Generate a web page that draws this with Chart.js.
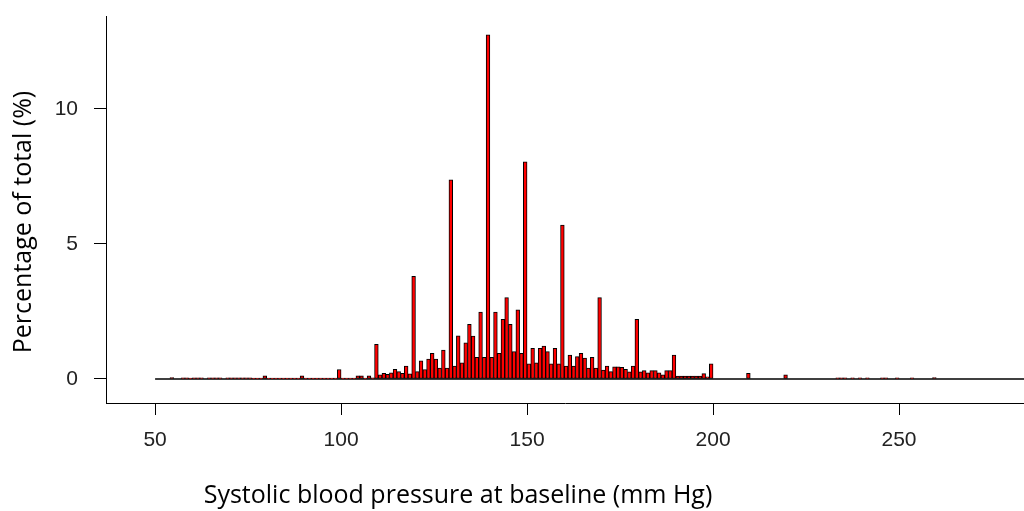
<!DOCTYPE html>
<html>
<head>
<meta charset="utf-8">
<title>Systolic blood pressure at baseline</title>
<script src="https://cdn.jsdelivr.net/npm/chart.js@4.4.0/dist/chart.umd.min.js"></script>
<style>
  html, body { margin: 0; padding: 0; background: #fff; }
  #wrap { width: 1024px; height: 511px; position: relative; }
</style>
</head>
<body>
<div id="wrap"><canvas id="sbpChart"></canvas></div>
<script>
// 1 mm Hg bins, bin i covers (binStart + i, binStart + i + 1]
const binStart = 50;
const xMin = 36.8;
const xMax = 283.6;

// percentage of total per bin (rows of 10 bins: 51-60, 61-70, ...)
const pctTotal = [
  0, 0, 0, 0, 0.05, 0, 0, 0.04, 0.04, 0.03,
  0.04, 0.04, 0.04, 0, 0.04, 0.04, 0.04, 0.04, 0, 0.04,
  0.04, 0.04, 0.04, 0.04, 0.04, 0.04, 0.03, 0.03, 0.03, 0.12,
  0.03, 0.03, 0.03, 0.03, 0.03, 0.03, 0.03, 0.03, 0.03, 0.12,
  0.03, 0.03, 0.03, 0.03, 0.03, 0.03, 0.03, 0.03, 0.03, 0.35,
  0.03, 0.03, 0.03, 0.03, 0.12, 0.12, 0.03, 0.12, 0.04, 1.28,
  0.15, 0.21, 0.17, 0.23, 0.36, 0.27, 0.21, 0.48, 0.19, 3.8,
  0.27, 0.67, 0.35, 0.74, 0.95, 0.74, 0.4, 1.07, 0.4, 7.37,
  0.48, 1.6, 0.6, 1.34, 2.02, 1.59, 0.8, 2.48, 0.8, 12.74,
  0.8, 2.48, 0.95, 2.21, 3.01, 2.02, 1.01, 2.56, 0.95, 8.04,
  0.56, 1.13, 0.6, 1.13, 1.22, 1.01, 0.56, 1.13, 0.56, 5.7,
  0.48, 0.88, 0.48, 0.83, 0.95, 0.77, 0.4, 0.8, 0.4, 3.01,
  0.33, 0.48, 0.27, 0.45, 0.45, 0.43, 0.36, 0.26, 0.48, 2.21,
  0.26, 0.31, 0.23, 0.31, 0.31, 0.23, 0.15, 0.31, 0.31, 0.88,
  0.11, 0.11, 0.11, 0.11, 0.11, 0.11, 0.11, 0.2, 0.08, 0.56,
  0, 0, 0, 0, 0, 0, 0, 0, 0, 0.21,
  0, 0, 0, 0, 0, 0, 0, 0, 0, 0.15,
  0, 0, 0, 0, 0, 0, 0, 0, 0, 0,
  0, 0, 0, 0.04, 0.04, 0.04, 0, 0.04, 0, 0.04,
  0, 0.04, 0, 0, 0, 0.04, 0.04, 0, 0, 0.04,
  0, 0, 0, 0.04, 0, 0, 0, 0, 0, 0.05
];

const xTicks = [50, 100, 150, 200, 250];
const yTicks = [0, 5, 10];
const xTitle = "Systolic blood pressure at baseline (mm Hg)";
const yTitle = "Percentage of total (%)";

// bar centred in the middle of its bin
const barPoints = pctTotal.map((p, i) => ({ x: binStart + i + 0.5, y: p }));

// R-style axis titles (placed like the original, not centred on the plot)
const axisTitles = {
  id: "axisTitles",
  afterDraw(chart) {
    const ctx = chart.ctx;
    ctx.save();
    ctx.fillStyle = "#000";
    ctx.font = '25px "Open Sans"';
    ctx.textAlign = "center";
    ctx.textBaseline = "middle";
    ctx.fillText(xTitle, 458, 496);
    ctx.translate(24, 222);
    ctx.rotate(-Math.PI / 2);
    ctx.fillText(yTitle, 0, 0);
    ctx.restore();
  },
};

new Chart(document.getElementById("sbpChart"), {
  type: "bar",
  data: {
    datasets: [
      {
        type: "line",
        data: [{ x: binStart, y: 0 }, { x: xMax, y: 0 }],
        borderColor: "#000",
        borderWidth: 1.5,
        pointRadius: 0,
        order: 2,
      },
      {
        data: barPoints,
        backgroundColor: "#ff0000",
        borderColor: "#000",
        borderWidth: 1,
        borderSkipped: false,
        barPercentage: 1,
        categoryPercentage: 1,
        order: 1,
      },
    ],
  },
  options: {
    responsive: true,
    maintainAspectRatio: false,
    animation: false,
    layout: { padding: { top: 16, right: 0, left: 0, bottom: 0 } },
    plugins: {
      legend: { display: false },
      tooltip: { enabled: false },
    },
    scales: {
      x: {
        type: "linear",
        min: xMin,
        max: xMax,
        offset: false,
        afterFit: (scale) => {
          scale.height = 108;
          scale.paddingLeft = 0;
          scale.paddingRight = 0;
        },
        afterBuildTicks: (scale) => { scale.ticks = xTicks.map((v) => ({ value: v })); },
        grid: {
          offset: false,
          drawOnChartArea: false,
          color: "#000",
          tickColor: "#000",
          tickLength: 12,
        },
        border: { display: true, color: "#000", width: 1 },
        ticks: {
          color: "#222",
          font: { family: '"Liberation Sans", Arial', size: 21 },
          padding: 13,
          maxRotation: 0,
        },
      },
      y: {
        min: -0.89,
        max: 13.44,
        afterFit: (scale) => {
          scale.width = 106;
          scale.paddingTop = 0;
          scale.paddingBottom = 0;
        },
        afterBuildTicks: (scale) => { scale.ticks = yTicks.map((v) => ({ value: v })); },
        grid: {
          drawOnChartArea: false,
          color: "#000",
          tickColor: "#000",
          tickLength: 12,
        },
        border: { display: true, color: "#000", width: 1 },
        ticks: {
          color: "#222",
          font: { family: '"Liberation Sans", Arial', size: 21 },
          padding: 16,
        },
      },
    },
  },
  plugins: [axisTitles],
});
</script>
</body>
</html>
